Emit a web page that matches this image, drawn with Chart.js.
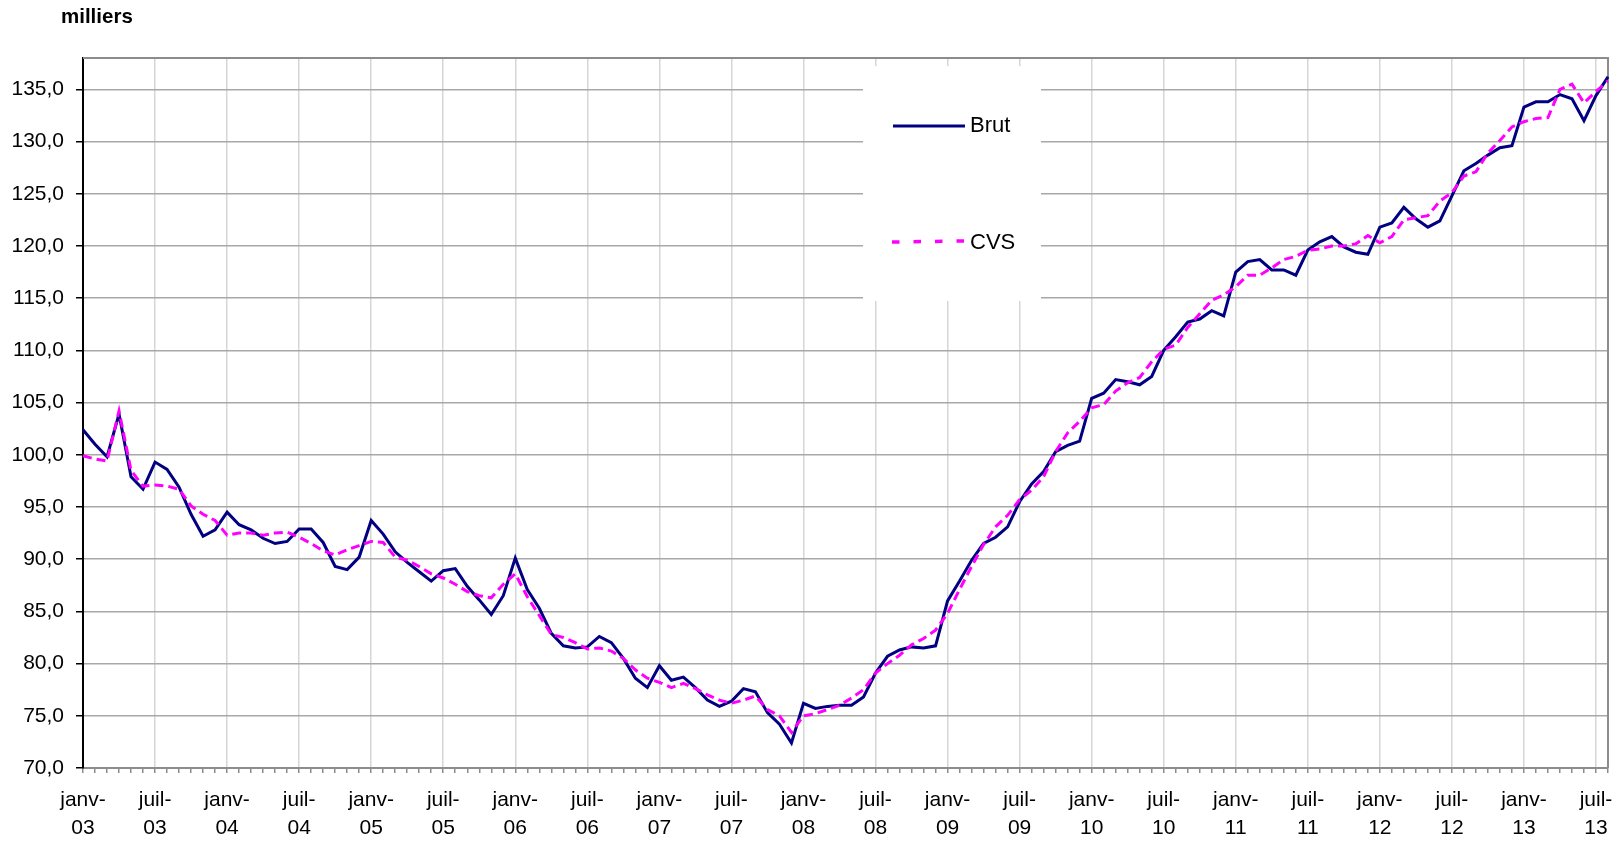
<!DOCTYPE html>
<html>
<head>
<meta charset="utf-8">
<script src="https://cdn.jsdelivr.net/npm/chart.js@4.4.1/dist/chart.umd.min.js"></script>
<style>
  html, body { margin: 0; padding: 0; background: #ffffff; }
  #wrap { width: 1622px; height: 842px; }
</style>
</head>
<body>
<div id="wrap"><canvas id="c" width="1622" height="842"></canvas></div>
<script>
// ---- Data ----
const monthNames = ['janv','févr','mars','avr','mai','juin','juil','août','sept','oct','nov','déc'];
const years = ['03','04','05','06','07','08','09','10','11','12','13'];
const lastMonthIndex = 7; // août-13

const categories = [];
for (const y of years) {
  for (let m = 0; m < 12; m++) {
    if (y === '13' && m > lastMonthIndex) break;
    categories.push(monthNames[m] + '-' + y);
  }
}

const brut = [
  102.4, 101.0, 99.8, 103.9, 97.9, 96.7, 99.3, 98.6, 96.9, 94.3, 92.2, 92.8,
  94.5, 93.3, 92.8, 92.0, 91.5, 91.7, 92.9, 92.9, 91.6, 89.3, 89.0, 90.2,
  93.7, 92.4, 90.7, 89.7, 88.8, 87.9, 88.9, 89.1, 87.4, 86.1, 84.7, 86.5,
  90.1, 87.1, 85.3, 82.9, 81.7, 81.5, 81.6, 82.6, 82.0, 80.5, 78.6, 77.7,
  79.8, 78.4, 78.7, 77.7, 76.5, 75.9, 76.4, 77.6, 77.3, 75.3, 74.2, 72.4,
  76.2, 75.7, 75.9, 76.0, 76.0, 76.8, 79.1, 80.7, 81.3, 81.6, 81.5, 81.7,
  86.0, 87.9, 89.9, 91.5, 92.1, 93.1, 95.5, 97.2, 98.4, 100.3, 100.9, 101.3,
  105.4, 105.9, 107.2, 107.0, 106.7, 107.5, 110.0, 111.3, 112.7, 113.0, 113.8, 113.3,
  117.5, 118.5, 118.7, 117.7, 117.7, 117.2, 119.6, 120.4, 120.9, 119.9, 119.4, 119.2,
  121.8, 122.2, 123.7, 122.6, 121.8, 122.4, 124.8, 127.2, 127.9, 128.7, 129.4, 129.6,
  133.3, 133.8, 133.8, 134.5, 134.1, 132.0, 134.4, 136.2
];

const cvs = [
  99.9, 99.6, 99.4, 104.2, 98.5, 97.0, 97.1, 97.0, 96.7, 95.1, 94.3, 93.7,
  92.3, 92.5, 92.5, 92.3, 92.5, 92.6, 92.1, 91.5, 90.8, 90.4, 90.9, 91.3,
  91.7, 91.6, 90.2, 89.9, 89.3, 88.6, 88.2, 87.6, 86.9, 86.5, 86.3, 87.6,
  88.6, 86.4, 84.6, 82.8, 82.5, 82.0, 81.4, 81.5, 81.2, 80.5, 79.4, 78.6,
  78.2, 77.7, 78.1, 77.6, 77.0, 76.5, 76.2, 76.5, 76.9, 75.6, 75.0, 73.4,
  75.0, 75.2, 75.6, 76.0, 76.7, 77.5, 79.1, 80.0, 80.8, 81.8, 82.4, 83.2,
  84.8, 87.1, 89.3, 91.4, 93.1, 94.2, 95.7, 96.6, 97.9, 100.3, 102.1, 103.2,
  104.5, 104.8, 106.1, 106.9, 107.4, 108.9, 110.1, 110.5, 112.2, 113.5, 114.8, 115.3,
  116.1, 117.2, 117.2, 117.9, 118.7, 119.0, 119.6, 119.7, 120.0, 120.0, 120.2, 121.0,
  120.3, 120.9, 122.5, 122.7, 122.9, 124.3, 125.1, 126.7, 127.1, 128.9, 130.1, 131.4,
  131.9, 132.2, 132.3, 135.0, 135.5, 133.7, 134.8, 135.8
];

const yMin = 70;
const yMax = 138;
const yStep = 5;
const unitLabel = 'milliers';
const seriesNames = ['Brut', 'CVS'];

// ---- Styling ----
const FONT = '"Liberation Sans", Arial, sans-serif';
const BRUT_COLOR = '#000080';
const CVS_COLOR = '#FF00FF';

const decorPlugin = {
  id: 'decor',
  beforeDatasetsDraw(chart) {
    const { ctx, chartArea: a } = chart;
    ctx.save();
    ctx.strokeStyle = '#8c8c8c';
    ctx.lineWidth = 2;
    ctx.beginPath();
    ctx.moveTo(a.left, a.top);
    ctx.lineTo(a.right, a.top);
    ctx.lineTo(a.right, a.bottom);
    ctx.stroke();
    ctx.restore();
  },
  afterDraw(chart) {
    const { ctx } = chart;
    ctx.save();
    // unit title
    ctx.fillStyle = '#000';
    ctx.font = 'bold 20.5px ' + FONT;
    ctx.textBaseline = 'alphabetic';
    ctx.textAlign = 'left';
    ctx.fillText(unitLabel, 61, 23);

    // legend box
    ctx.fillStyle = '#ffffff';
    ctx.fillRect(863, 66, 178, 235);
    ctx.font = '22px ' + FONT;
    ctx.textBaseline = 'middle';
    ctx.fillStyle = '#000';
    // Brut
    ctx.strokeStyle = BRUT_COLOR;
    ctx.lineWidth = 3;
    ctx.setLineDash([]);
    ctx.beginPath();
    ctx.moveTo(893, 126);
    ctx.lineTo(965, 126);
    ctx.stroke();
    ctx.fillText(seriesNames[0], 970, 126);
    // CVS
    ctx.strokeStyle = CVS_COLOR;
    ctx.lineWidth = 3.5;
    ctx.setLineDash([7.5, 14]);
    ctx.beginPath();
    ctx.moveTo(892, 242);
    ctx.lineTo(965, 241);
    ctx.stroke();
    ctx.setLineDash([]);
    ctx.fillText(seriesNames[1], 970, 243);
    ctx.restore();
  }
};

const ctx = document.getElementById('c').getContext('2d');
new Chart(ctx, {
  type: 'line',
  data: {
    labels: categories,
    datasets: [
      {
        label: seriesNames[0], data: brut, borderColor: BRUT_COLOR, backgroundColor: BRUT_COLOR,
        borderWidth: 3, pointRadius: 0, tension: 0, order: 1, fill: false
      },
      {
        label: seriesNames[1], data: cvs, borderColor: CVS_COLOR, backgroundColor: CVS_COLOR,
        borderWidth: 3, borderDash: [9, 5], pointRadius: 0, tension: 0, order: 0, fill: false
      }
    ]
  },
  options: {
    responsive: false,
    animation: false,
    devicePixelRatio: 1,
    layout: { padding: { top: 58, right: 13, left: 0, bottom: 0 } },
    plugins: { legend: { display: false }, tooltip: { enabled: false }, title: { display: false } },
    scales: {
      x: {
        type: 'category',
        offset: false,
        grid: {
          color: (c) => (c.index % 6 === 0 ? '#d6d6d6' : 'rgba(0,0,0,0)'),
          lineWidth: 1.5,
          tickLength: 5,
          tickColor: '#8c8c8c',
          drawOnChartArea: true
        },
        border: { color: '#8c8c8c', width: 2 },
        ticks: {
          autoSkip: false,
          maxRotation: 0,
          minRotation: 0,
          padding: 14,
          color: '#000',
          font: { family: FONT, size: 21, lineHeight: 1.3 },
          callback: function (v, i) {
            if (i % 6 !== 0) return '';
            const lab = categories[i];
            const parts = lab.split('-');
            return [parts[0] + '-', parts[1]];
          }
        },
        afterFit: (s) => { s.height = 74; }
      },
      y: {
        min: yMin,
        max: yMax,
        afterBuildTicks: (s) => {
          s.ticks = s.ticks.filter((t) => Math.abs(t.value % yStep) < 1e-9);
        },
        grid: { color: '#a8a8a8', lineWidth: 1.5, tickLength: 7, tickColor: '#000' },
        border: { color: '#000', width: 2 },
        ticks: {
          stepSize: yStep,
          padding: 12,
          color: '#000',
          font: { family: FONT, size: 21 },
          callback: (v) => Number(v).toFixed(1).replace('.', ',')
        },
        afterFit: (s) => { s.width = 83; }
      }
    }
  },
  plugins: [decorPlugin]
});
</script>
</body>
</html>
